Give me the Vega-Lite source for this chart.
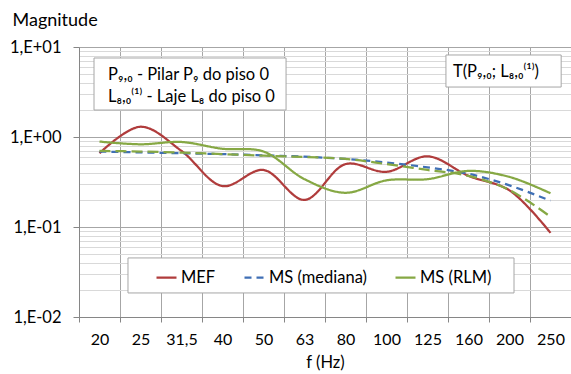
{
  "$schema": "https://vega.github.io/schema/vega-lite/v6.json",
  "width": 492,
  "height": 270,
  "autosize": "none",
  "padding": {"left": 79, "top": 47, "right": 0, "bottom": 57},
  "background": "white",
  "config": {"font": "Lato", "view": {"stroke": null}},
  "datasets": {
    "series": [
      {"f": "20", "s": "MEF", "v": 0.66}, {"f": "25", "s": "MEF", "v": 1.3}, {"f": "31,5", "s": "MEF", "v": 0.70}, {"f": "40", "s": "MEF", "v": 0.285},
      {"f": "50", "s": "MEF", "v": 0.43}, {"f": "63", "s": "MEF", "v": 0.20}, {"f": "80", "s": "MEF", "v": 0.50}, {"f": "100", "s": "MEF", "v": 0.41},
      {"f": "125", "s": "MEF", "v": 0.61}, {"f": "160", "s": "MEF", "v": 0.37}, {"f": "200", "s": "MEF", "v": 0.255}, {"f": "250", "s": "MEF", "v": 0.086},
      {"f": "20", "s": "MS (mediana)", "v": 0.69}, {"f": "25", "s": "MS (mediana)", "v": 0.675}, {"f": "31,5", "s": "MS (mediana)", "v": 0.66}, {"f": "40", "s": "MS (mediana)", "v": 0.645},
      {"f": "50", "s": "MS (mediana)", "v": 0.625}, {"f": "63", "s": "MS (mediana)", "v": 0.605}, {"f": "80", "s": "MS (mediana)", "v": 0.57}, {"f": "100", "s": "MS (mediana)", "v": 0.52},
      {"f": "125", "s": "MS (mediana)", "v": 0.46}, {"f": "160", "s": "MS (mediana)", "v": 0.39}, {"f": "200", "s": "MS (mediana)", "v": 0.29}, {"f": "250", "s": "MS (mediana)", "v": 0.196},
      {"f": "20", "s": "MS (RLM)", "v": 0.89}, {"f": "25", "s": "MS (RLM)", "v": 0.83}, {"f": "31,5", "s": "MS (RLM)", "v": 0.88}, {"f": "40", "s": "MS (RLM)", "v": 0.74},
      {"f": "50", "s": "MS (RLM)", "v": 0.69}, {"f": "63", "s": "MS (RLM)", "v": 0.34}, {"f": "80", "s": "MS (RLM)", "v": 0.24}, {"f": "100", "s": "MS (RLM)", "v": 0.33},
      {"f": "125", "s": "MS (RLM)", "v": 0.34}, {"f": "160", "s": "MS (RLM)", "v": 0.42}, {"f": "200", "s": "MS (RLM)", "v": 0.36}, {"f": "250", "s": "MS (RLM)", "v": 0.237},
      {"f": "20", "s": "MS (RLM, mediana)", "v": 0.70}, {"f": "25", "s": "MS (RLM, mediana)", "v": 0.69}, {"f": "31,5", "s": "MS (RLM, mediana)", "v": 0.67}, {"f": "40", "s": "MS (RLM, mediana)", "v": 0.645},
      {"f": "50", "s": "MS (RLM, mediana)", "v": 0.62}, {"f": "63", "s": "MS (RLM, mediana)", "v": 0.60}, {"f": "80", "s": "MS (RLM, mediana)", "v": 0.57}, {"f": "100", "s": "MS (RLM, mediana)", "v": 0.50},
      {"f": "125", "s": "MS (RLM, mediana)", "v": 0.43}, {"f": "160", "s": "MS (RLM, mediana)", "v": 0.37}, {"f": "200", "s": "MS (RLM, mediana)", "v": 0.257}, {"f": "250", "s": "MS (RLM, mediana)", "v": 0.13}
    ],
    "boxes": [
      {"x1": 0.366, "x2": 5.05, "y1": 7.55, "y2": 1.995},
      {"x1": 8.95, "x2": 11.76, "y1": 8.15, "y2": 3.59},
      {"x1": 1.195, "x2": 10.61, "y1": 0.0453, "y2": 0.0185}
    ],
    "notes": [
      {"x": 0.707, "y": 4.89, "t": "P₉,₀ - Pilar P₉ do piso 0"},
      {"x": 0.707, "y": 2.78, "t": "L₈,₀⁽¹⁾ - Laje L₈ do piso 0"},
      {"x": 9.12, "y": 5.28, "t": "T(P₉,₀; L₈,₀⁽¹⁾)"}
    ]
  },
  "layer": [
    {
      "data": {"name": "series"},
      "mark": {"type": "line", "interpolate": "catmull-rom", "strokeWidth": 2.25},
      "encoding": {
        "x": {
          "field": "f", "type": "ordinal",
          "sort": ["20", "25", "31,5", "40", "50", "63", "80", "100", "125", "160", "200", "250"],
          "scale": {"type": "band", "paddingInner": 0, "paddingOuter": 0},
          "bandPosition": 0.5,
          "axis": {
            "title": "f (Hz)", "titleFontSize": 16.5, "titleFontWeight": "normal", "titleColor": "black", "titlePadding": 7,
            "tickBand": "extent", "labelAngle": 0, "labelFontSize": 16, "labelColor": "black", "labelPadding": 9,
            "tickSize": 5, "tickColor": "#868686", "domainColor": "#868686",
            "grid": true, "gridColor": "#A6A6A6"
          }
        },
        "y": {
          "field": "v", "type": "quantitative",
          "scale": {"type": "log", "domain": [0.01, 10]},
          "axis": {
            "title": "Magnitude", "titleAngle": 0, "titleAlign": "left", "titleBaseline": "middle",
            "titleX": -67, "titleY": -27, "titleFontSize": 18, "titleFontWeight": "normal", "titleColor": "black",
            "values": [0.01, 0.02, 0.03, 0.04, 0.05, 0.06, 0.07, 0.08, 0.09, 0.1, 0.2, 0.3, 0.4, 0.5, 0.6, 0.7, 0.8, 0.9, 1, 2, 3, 4, 5, 6, 7, 8, 9, 10],
            "labelExpr": "datum.value == 10 ? '1,E+01' : datum.value == 1 ? '1,E+00' : datum.value == 0.1 ? '1,E-01' : datum.value == 0.01 ? '1,E-02' : ''",
            "labelFontSize": 16.5, "labelColor": "black", "labelPadding": 12,
            "tickSize": 6,
            "tickOpacity": {"condition": {"test": "indexof([0.01, 0.1, 1, 10], datum.value) >= 0", "value": 1}, "value": 0},
            "tickColor": "#868686", "domainColor": "#868686",
            "grid": true,
            "gridColor": {"condition": {"test": "indexof([0.01, 0.1, 1, 10], datum.value) >= 0", "value": "#A6A6A6"}, "value": "#D9D9D9"}
          }
        },
        "color": {
          "field": "s", "type": "nominal",
          "scale": {"domain": ["MEF", "MS (mediana)", "MS (RLM)", "MS (RLM, mediana)"], "range": ["#B03C3C", "#3F6FB5", "#86A844", "#86A844"]},
          "legend": {
            "title": null, "orient": "none", "legendX": 76, "legendY": 219, "direction": "horizontal",
            "values": ["MEF", "MS (mediana)", "MS (RLM)"],
            "symbolType": "stroke", "symbolSize": 400, "symbolStrokeWidth": 2.25,
            "labelFontSize": 16.5, "labelColor": "black", "labelOffset": 3, "columnPadding": 24, "padding": 0
          }
        },
        "strokeDash": {
          "field": "s", "type": "nominal",
          "scale": {"domain": ["MEF", "MS (mediana)", "MS (RLM)", "MS (RLM, mediana)"], "range": [[1, 0], [7, 5], [1, 0], [11, 5]]},
          "legend": {
            "title": null, "orient": "none", "legendX": 76, "legendY": 219, "direction": "horizontal",
            "values": ["MEF", "MS (mediana)", "MS (RLM)"],
            "symbolType": "stroke", "symbolSize": 400, "symbolStrokeWidth": 2.25,
            "labelFontSize": 16.5, "labelColor": "black", "labelOffset": 3, "columnPadding": 24, "padding": 0
          }
        }
      }
    },
    {
      "data": {"name": "boxes"},
      "mark": {"type": "rect", "fill": "white", "stroke": "#A6A6A6", "strokeWidth": 1},
      "encoding": {
        "x": {"field": "x1", "type": "quantitative", "scale": {"domain": [0, 12]}, "axis": null},
        "x2": {"field": "x2"},
        "y": {"field": "y1", "type": "quantitative", "scale": {"type": "log", "domain": [0.01, 10]}},
        "y2": {"field": "y2"}
      }
    },
    {
      "data": {"name": "notes"},
      "mark": {"type": "text", "align": "left", "baseline": "middle", "fontSize": 16.5, "font": "Lato, DejaVu Sans", "color": "black"},
      "encoding": {
        "x": {"field": "x", "type": "quantitative", "scale": {"domain": [0, 12]}, "axis": null},
        "y": {"field": "y", "type": "quantitative", "scale": {"type": "log", "domain": [0.01, 10]}},
        "text": {"field": "t"}
      }
    }
  ],
  "resolve": {"scale": {"x": "independent"}}
}
